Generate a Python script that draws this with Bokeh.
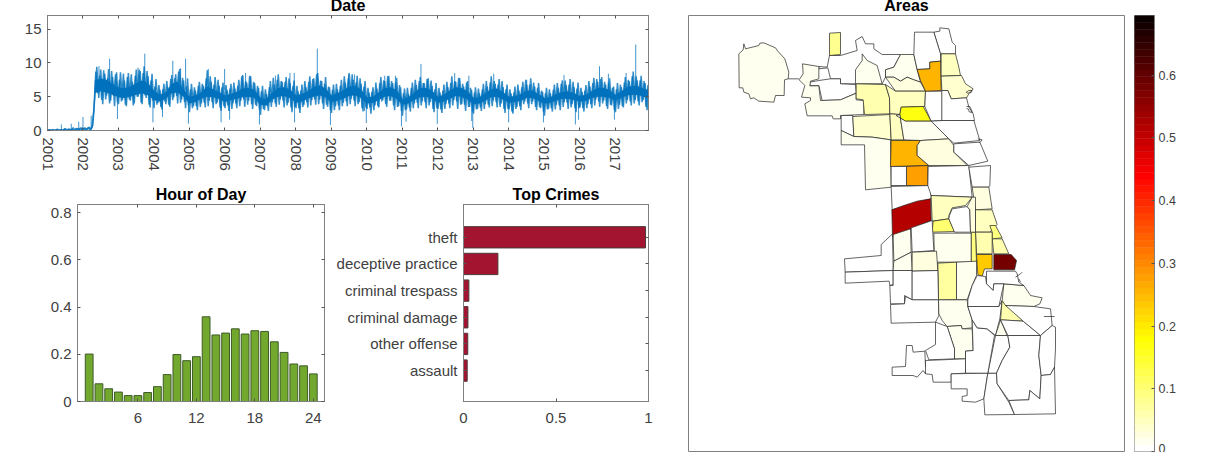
import numpy as np
from bokeh.embed import file_html
from bokeh.resources import INLINE
from bokeh.layouts import row, column
from bokeh.models import (ColumnDataSource, FixedTicker, LinearAxis, LinearColorMapper,
                          NumeralTickFormatter, Range1d, Title)
from bokeh.plotting import figure

# ---------- daily crime series ----------
SERIES_START = 2001.0
SERIES_PER_YEAR = 18
daily_values = [
 0.0,0.1,0.0,0.1,0.0,0.2,0.0,0.1,0.0,0.3,0.0,0.2,0.0,0.4,0.0,0.3,0.1,0.4,
 0.0,0.4,0.1,0.5,0.2,0.8,5.0,9.4,4.8,9.0,3.9,8.4,5.2,9.1,4.4,7.9,3.6,8.6,
 3.9,8.6,4.5,7.4,3.6,8.5,4.4,7.2,4.0,9.0,5.0,8.8,3.9,9.5,4.8,8.0,3.4,8.4,
 3.3,7.6,4.1,6.0,3.1,6.9,3.9,6.4,3.5,8.2,4.9,8.3,4.0,9.1,4.6,7.4,3.3,7.7,
 2.7,6.9,3.6,5.9,3.0,7.2,4.0,6.6,3.4,8.9,4.4,7.2,3.3,7.9,4.1,6.6,2.9,7.1,
 3.3,6.0,2.9,6.9,4.0,6.2,3.3,7.5,4.4,8.2,3.5,7.1,4.4,8.0,3.2,7.0,3.6,6.3,
 2.3,6.6,3.0,5.4,2.9,7.3,4.2,6.8,3.5,8.3,4.6,7.2,3.4,7.9,4.1,7.0,2.7,7.4,
 3.3,5.8,2.6,6.8,3.8,6.4,3.4,8.0,4.5,7.7,3.8,8.5,4.6,7.3,3.2,7.9,3.5,6.4,
 2.6,6.8,3.6,6.1,3.0,7.5,4.1,7.1,3.6,8.5,4.7,7.5,3.6,8.1,4.2,6.9,2.8,7.3,
 3.2,5.6,2.5,6.4,3.7,6.2,3.4,7.9,4.5,7.3,3.5,8.1,4.4,7.0,3.0,7.8,3.6,6.4,
 2.2,6.2,3.1,5.4,2.8,7.1,4.0,6.7,3.3,7.9,4.3,7.0,3.3,7.7,4.2,6.6,2.7,7.0,
 3.2,5.6,2.6,6.8,3.9,6.4,3.3,8.0,4.5,7.2,3.2,7.7,3.9,6.5,2.9,7.3,3.5,6.0,
 2.5,6.4,3.2,5.5,2.9,6.9,3.9,6.5,3.4,8.0,4.4,6.9,3.4,7.6,4.0,6.4,2.6,6.8,
 3.1,5.5,2.5,6.5,3.5,5.9,3.0,7.2,4.3,6.8,3.3,7.7,4.3,6.5,3.0,7.0,3.3,5.7,
 2.2,6.3,3.2,5.5,2.8,6.8,3.8,6.3,3.0,7.4,4.2,6.7,3.2,7.6,3.9,6.4,2.7,7.1,
 3.4,5.7,2.8,6.7,3.9,6.5,3.3,7.8,4.6,7.2,3.5,7.9,4.4,6.8,3.2,7.7,3.7,6.5,
 2.7,7.0,3.8,6.4,3.4,7.9,4.5,7.3,3.7,8.7,4.5,7.4,3.7,8.1,4.5,7.0,3.0,7.5,
]
daily_values_between = [
 0.1,0.0,0.1,0.0,0.1,0.0,0.1,0.0,0.2,0.0,0.2,0.1,0.2,0.0,0.3,0.1,0.3,0.1,
 0.3,0.1,0.4,0.1,0.4,3.0,8.7,5.5,8.1,4.5,8.9,4.6,7.7,4.0,8.8,5.1,8.3,4.2,
 7.5,4.3,8.4,3.8,7.9,4.6,8.3,3.7,8.1,5.0,9.0,4.1,8.5,5.2,8.8,3.8,7.4,4.4,
 6.5,3.8,6.7,3.5,6.1,4.3,7.3,3.8,7.6,4.5,7.7,5.1,8.7,4.1,7.8,4.2,6.5,3.7,
 6.1,3.3,6.4,3.6,6.6,3.5,6.9,4.1,7.7,3.6,8.0,4.2,6.8,3.9,7.5,3.4,6.4,3.6,
 6.7,3.7,6.2,3.2,7.1,4.0,6.6,3.6,8.0,4.6,7.3,3.8,8.1,3.9,7.2,3.8,6.6,3.1,
 5.8,3.2,6.1,3.6,6.4,3.5,7.8,4.0,7.5,3.8,7.3,4.4,7.2,3.7,7.7,3.4,6.6,3.5,
 6.6,3.3,5.9,3.5,7.3,4.2,7.2,3.7,7.6,4.6,8.3,3.9,7.4,4.0,6.9,3.8,6.5,3.0,
 6.0,3.0,6.9,3.7,6.6,3.6,8.0,4.3,7.7,3.9,8.3,4.4,7.1,3.9,7.7,3.3,6.5,3.4,
 6.3,3.4,5.7,3.0,7.1,3.6,7.0,4.3,7.4,3.9,8.0,4.4,7.3,3.7,7.1,3.5,6.7,2.9,
 5.5,3.0,6.3,3.4,6.3,3.3,7.5,4.1,7.3,3.7,7.0,4.2,7.6,3.7,7.4,3.2,6.1,3.3,
 6.3,3.1,5.9,3.2,7.2,4.0,7.0,3.7,7.3,4.3,7.8,3.8,6.9,3.8,7.1,3.5,6.3,2.8,
 5.6,3.1,6.2,3.4,6.1,3.2,7.3,3.8,7.1,3.6,7.3,4.2,6.8,3.5,7.3,3.2,6.1,3.2,
 6.1,2.8,5.6,3.2,6.8,3.6,6.4,3.9,7.5,4.0,6.8,3.9,7.1,3.5,6.3,3.5,5.9,2.8,
 5.5,3.1,6.1,3.3,6.0,3.1,7.0,3.7,6.9,3.5,7.4,4.1,6.8,3.4,7.2,3.3,6.2,3.3,
 6.3,3.3,5.9,3.3,7.3,3.9,7.0,3.7,7.6,4.3,7.6,4.0,7.2,3.6,7.1,3.8,6.3,3.0,
 6.1,3.2,6.8,3.6,7.1,4.0,7.5,4.3,8.0,4.0,8.0,4.3,7.4,4.2,7.3,3.5,6.7,3.6,
]
CORE_START = 2002.33
CORE_PER_YEAR = 6
core_low = [
 5.5,5.8,5.6,5.3, 4.9,4.8,5.0,5.3,5.5,5.2, 4.5,4.3,4.7,5.5,5.6,5.0, 4.0,4.2,4.7,5.0,4.9,4.7,
 4.2,4.5,4.7,4.9,5.0,4.8, 3.8,3.7,4.6,5.0,5.1,4.8, 4.1,4.3,4.7,5.0,5.2,4.9, 4.2,4.4,4.7,5.1,5.2,4.8,
 4.0,4.1,4.5,5.0,5.1,4.7, 3.8,4.0,4.5,4.9,5.0,4.7, 4.1,4.3,4.7,5.1,5.0,4.6, 3.9,4.0,4.4,4.9,5.0,4.6,
 4.1,4.2,4.4,4.8,4.8,4.4, 4.0,4.1,4.4,4.7,4.7,4.5, 4.3,4.4,4.8,5.0,5.0,4.8, 4.4,4.8,5.2,5.3,5.2,4.9, 4.8]
core_high = [
 7.4,7.7,7.5,6.9, 6.4,6.2,6.5,7.0,7.4,7.0, 5.9,5.3,5.6,6.9,7.2,6.1, 5.0,5.2,5.6,6.5,6.1,5.7,
 5.2,5.4,5.7,6.2,6.3,6.0, 4.8,4.7,5.6,6.3,6.4,6.1, 5.2,5.4,5.8,6.4,6.7,6.2, 5.2,5.5,5.9,6.5,6.6,6.1,
 4.9,5.0,5.6,6.3,6.4,6.0, 4.6,4.9,5.6,6.3,6.3,5.9, 5.0,5.3,5.9,6.4,6.3,5.8, 4.8,4.9,5.5,6.1,6.2,5.7,
 5.0,5.1,5.4,5.9,5.9,5.4, 4.8,4.9,5.4,5.7,5.8,5.5, 5.1,5.3,5.8,6.3,6.3,6.0, 5.3,5.8,6.4,6.6,6.5,6.1, 6.0]
peak_years = [2002.45,2002.75,2003.55,2003.74,2004.53,2004.75,2004.89,2005.53,2005.99,2006.58,2007.42,
              2007.83,2007.95,2008.6,2009.48,2009.65,2010.5,2010.8,2011.52,2012.47,2012.87,2013.57,
              2014.5,2015.55,2016.55,2016.8,2017.3,2017.57]
peak_values = [9.5,10.6,9.3,11.35,10.3,9.2,10.6,9.1,9.1,8.5,8.1,8.5,8.5,12.1,8.3,8.3,8.1,8.1,9.85,8.5,
               8.1,8.4,7.5,8.2,9.5,8.4,8.5,12.7]
dip_years = [2002.97,2003.97,2004.24,2004.97,2005.89,2006.13,2006.97,2007.96,2008.97,2009.93,2009.98,
             2010.97,2011.1,2011.98,2012.95,2012.98,2013.99,2014.97,2015.87,2015.96,2016.97]
dip_values = [1.7,1.2,2.0,1.0,1.2,1.6,0.9,1.2,0.8,2.9,1.1,0.6,1.3,0.95,1.4,0.4,1.2,1.2,0.9,1.6,1.6]
early_years = [2001.39,2001.67,2001.88,2002.0,2002.23]
early_values = [0.9,1.0,1.3,2.0,2.2]
year_ticks = list(range(2001, 2018))

# ---------- hour of day ----------
hours = list(range(1, 25))
hour_values = [.201,.075,.054,.04,.025,.025,.038,.063,.114,.199,.173,.19,.359,.282,.29,.308,.286,.30,.297,.253,
               .208,.159,.151,.117]
# ---------- top crimes ----------
crime_names = ["theft","deceptive practice","criminal trespass","criminal damage","other offense","assault"]
crime_values = [.984,.186,.029,.024,.023,.02]

# ---------- community areas: traced outlines, per tracing sheet (origin, then points at 3 units per map unit)
SHEETS = {"N":(690,10),"S":(830,220),"C":(880,150),"E":(900,20)}
AREAS = [
 ("N",.012,[(145,130),(158,118),(160,100),(165,115),(205,105),(208,98),(220,97),(255,112),(262,122),(283,145),(295,185),(293,205),(282,208),(281,255),(255,255),(250,275),(205,272),(190,262),(180,265),(175,250),(160,245),(157,232),(146,232)]),
 ("N",0,[(417,135),(450,135),(500,120),(495,90),(515,78),(525,100),(550,100),(550,115),(575,132),(630,132),(610,170),(585,178),(585,200),(575,220),(495,220),(450,220),(450,205),(420,205),(412,172),(385,175),(385,168),(410,170)]),
 ("N",.08,[(417,68),(450,66),(450,132),(417,135)]),
 ("N",0,[(385,210),(420,205),(450,205),(450,220),(495,222),(497,248),(450,268),(395,270),(385,225),(358,225),(358,215)]),
 ("N",.012,[(336,160),(385,168),(385,205),(360,212),(358,226),(385,226),(390,270),(450,268),(497,248),(497,268),(520,270),(520,312),(450,315),(450,325),(428,325),(425,316),(350,316),(343,280),(360,270),(360,262),(333,260),(343,225),(326,208),(338,190)]),
 ("N",.012,[(495,178),(515,150),(515,130),(530,150),(560,165),(575,220),(495,220)]),
 ("N",.015,[(585,178),(610,170),(630,132),(670,132),(680,178),(690,215),(670,208),(650,200),(630,212),(610,200),(585,200)]),
 ("N",.03,[(585,200),(610,200),(630,212),(650,200),(670,208),(690,215),(705,242),(615,242)]),
 ("N",.06,[(497,220),(585,222),(597,262),(598,310),(522,312),(518,268),(497,265)]),
 ("N",.05,[(585,222),(615,242),(705,242),(703,288),(632,290),(628,312),(598,310),(597,262)]),
 ("N",.17,[(632,290),(698,288),(722,332),(645,332),(617,315),(628,312)]),
 ("N",0,[(705,242),(755,242),(755,330),(722,332),(703,288)]),
 ("N",0,[(452,315),(487,315),(490,378),(452,360)]),
 ("N",.04,[(487,318),(598,312),(602,388),(545,380),(490,378)]),
 ("N",.05,[(598,310),(628,312),(640,388),(602,388)]),
 ("N",.015,[(628,312),(617,315),(645,332),(722,332),(775,385),(690,390),(640,388)]),
 ("N",.012,[(452,360),(490,378),(545,380),(600,388),(602,530),(525,538),(522,403),(452,403)]),
 ("N",.25,[(602,390),(690,390),(680,405),(680,435),(715,465),(600,468)]),
 ("N",.025,[(690,390),(775,385),(790,405),(790,425),(830,465),(715,465),(680,435),(680,405)]),
 ("N",.28,[(648,468),(712,465),(712,525),(648,525)]),
 ("N",0,[(602,468),(648,468),(648,525),(602,525)]),
 ("N",.008,[(602,528),(720,525),(722,565),(605,598)]),
 ("N",0,[(755,330),(850,330),(868,390),(790,398),(775,385),(722,332)]),
 ("N",0,[(790,400),(868,395),(892,452),(835,465),(790,425)]),
 ("E",.01,[(100,35),(118,32),(118,22),(145,25),(155,65),(165,75),(165,100),(120,100)]),
 ("E",0,[(42,35),(100,35),(120,100),(120,122),(88,125),(88,145),(50,147),(40,102)]),
 ("E",.26,[(50,147),(88,145),(88,125),(120,122),(122,210),(75,212),(60,180)]),
 ("E",.05,[(122,100),(165,100),(175,140),(180,165),(122,167)]),
 ("E",.035,[(122,167),(183,165),(195,190),(218,205),(205,220),(198,232),(152,235),(142,210),(124,210)]),
 ("E",0,[(124,210),(142,210),(152,235),(198,232),(205,260),(218,280),(222,300),(124,300)]),
 ("C",0,[(143,48),(265,45),(275,140),(152,135),(142,105)]),
 ("C",0,[(265,50),(330,45),(328,105),(325,110),(275,110)]),
 ("C",.03,[(275,110),(325,110),(335,175),(285,178)]),
 ("C",.05,[(285,178),(335,178),(350,222),(328,245),(285,245)]),
 ("C",.09,[(328,225),(345,225),(365,262),(335,265),(335,245)]),
 ("C",.06,[(335,265),(365,265),(385,310),(340,310)]),
 ("C",.58,[(340,312),(392,312),(408,330),(402,358),(340,358)]),
 ("C",.235,[(288,312),(335,312),(335,355),(312,355),(305,378),(292,372)]),
 ("C",.06,[(285,245),(335,245),(335,310),(288,310)]),
 ("C",.09,[(272,245),(285,245),(288,335),(272,335)]),
 ("C",.012,[(160,248),(272,248),(272,335),(162,335)]),
 ("C",.05,[(152,135),(275,140),(255,165),(215,172),(205,195),(205,205),(170,210),(155,212)]),
 ("C",.10,[(158,212),(205,205),(222,243),(155,245)]),
 ("C",0,[(207,195),(215,175),(260,168),(268,178),(270,245),(222,245),(205,205)]),
 ("C",.03,[(260,168),(275,140),(285,140),(285,245),(270,245),(268,178)]),
 ("C",.52,[(34,178),(70,165),(110,152),(150,145),(152,210),(36,260)]),
 ("S",0,[(42,115),(152,105),(152,72),(186,40),(188,150),(44,155)]),
 ("S",0,[(44,155),(188,150),(188,192),(178,195),(176,182),(44,188)]),
 ("S",.02,[(188,42),(240,25),(242,95),(190,122)]),
 ("S",.012,[(190,122),(242,95),(245,150),(188,150)]),
 ("S",.01,[(242,22),(305,0),(310,90),(245,95)]),
 ("S",.03,[(245,95),(318,92),(322,150),(245,152)]),
 ("S",.07,[(322,128),(378,125),(378,237),(324,238)]),
 ("S",.012,[(378,125),(438,122),(438,165),(425,195),(410,238),(378,237)]),
 ("S",0,[(188,150),(245,150),(245,238),(222,225),(222,250),(180,250),(178,195),(188,195)]),
 ("S",0,[(245,152),(322,150),(324,238),(245,238)]),
 ("S",0,[(180,252),(222,250),(225,228),(245,238),(324,238),(325,285),(315,305),(182,308)]),
 ("S",.012,[(324,238),(410,238),(412,258),(425,298),(425,322),(395,325),(392,315),(350,318),(335,300),(325,280)]),
 ("S",.012,[(350,318),(392,315),(395,325),(425,325),(428,390),(405,392),(405,415),(372,415),(372,385)]),
 ("S",0,[(315,305),(350,318),(372,385),(372,415),(295,418),(285,390),(315,372)]),
 ("S",0,[(185,440),(225,438),(228,375),(245,375),(248,395),(283,392),(285,440),(295,440),(285,460),(278,450),(260,470),(248,465),(185,465)]),
 ("S",0,[(285,420),(405,415),(405,458),(362,460),(362,485),(308,485),(305,462),(285,460)]),
 ("S",0,[(362,460),(472,458),(460,535),(435,545),(395,542),(395,528),(410,525),(410,505),(362,505)]),
 ("S",0,[(472,458),(498,458),(500,490),(535,545),(552,582),(463,583),(460,535)]),
 ("S",0,[(498,458),(515,420),(538,380),(532,345),(495,345),(472,458)]),
 ("S",0,[(405,392),(428,390),(425,298),(440,322),(470,325),(492,345),(472,458),(405,458)]),
 ("S",0,[(412,258),(505,258),(515,240),(508,295),(495,345),(470,325),(440,322),(425,298)]),
 ("S",.06,[(515,240),(578,302),(510,298)]),
 ("S",.02,[(510,298),(530,345),(495,345)]),
 ("S",0,[(510,298),(578,302),(630,345),(532,345)]),
 ("S",.012,[(520,190),(580,195),(600,225),(635,232),(628,250),(610,258),(525,255),(515,240)]),
 ("S",0,[(555,152),(468,152),(468,190),(488,210),(490,190),(520,190),(580,195),(565,185),(560,160)]),
 ("S",0,[(412,258),(505,258),(520,190),(490,190),(488,210),(468,190),(465,168),(440,165),(425,195),(412,238)]),
 ("S",0,[(525,255),(610,258),(660,265),(665,315),(630,345),(578,302)]),
 ("S",0,[(532,345),(630,345),(625,405),(632,465),(628,535),(598,510),(595,538),(535,540),(500,490),(498,458),(515,420),(538,380)]),
 ("S",0,[(630,345),(665,315),(675,320),(675,385),(672,440),(660,462),(632,465),(625,405)]),
 ("S",0,[(632,465),(660,462),(672,440),(675,580),(552,582),(535,540),(595,538),(598,510),(628,535)]),
]
SHORE_LINES = [
 ("N",[(293,205),(325,205)]),
 ("S",[(640,288),(672,288)]),
 ("E",[(197,215),(205,210),(215,210),(212,216),(200,218),(197,215)]),
 ("E",[(198,258),(208,258),(216,276),(206,274),(204,266),(198,264)]),
 ("E",[(232,355),(245,358),(238,366),(235,365)]),
 ("S",[(555,170),(570,160),(575,155)]),
 ("S",[(565,175),(570,185)]),
]

def sheet_xy(name, pts):
    ox, oy = SHEETS[name]
    a = np.array(pts, dtype=float)
    return list(ox + a[:, 0] / 3), list(oy + a[:, 1] / 3)

# ---------- colour map: MATLAB flipud(hot) with 64 steps ----------
def hot_palette(n=64):
    m = int(np.floor(3 * n / 8))
    r = np.r_[np.arange(1, m + 1) / m, np.ones(n - m)]
    g = np.r_[np.zeros(m), np.arange(1, m + 1) / m, np.ones(n - 2 * m)]
    b = np.r_[np.zeros(2 * m), np.arange(1, n - 2 * m + 1) / (n - 2 * m)]
    return ["#%02x%02x%02x" % (int(round(255 * x)), int(round(255 * y)), int(round(255 * z))) for x, y, z in zip(r, g, b)][::-1]

CMAX = 0.695
palette = hot_palette()
mapper = LinearColorMapper(palette=palette, low=0, high=CMAX)

TXT = "#404040"
BOX = "#808080"
TICK = "#555555"
FONT = "Liberation Sans"
LABEL = "15px"
EXTRA = 12

def style_axis(ax, standoff=6):
    ax.major_tick_in = 3
    ax.major_tick_out = 0
    ax.minor_tick_in = 0
    ax.minor_tick_out = 0
    ax.major_tick_line_color = TICK
    ax.axis_line_color = BOX
    ax.major_label_text_color = TXT
    ax.major_label_text_font = FONT
    ax.major_label_text_font_size = LABEL
    ax.major_label_standoff = standoff

def mirror(p, side, ticks):
    ax = LinearAxis(ticker=FixedTicker(ticks=ticks))
    style_axis(ax, 0)
    ax.major_label_text_font_size = "0px"
    ax.major_label_overrides = {t: "" for t in ticks}
    p.add_layout(ax, side)

def add_title(p, text, standoff):
    p.add_layout(Title(text=text, align="center", text_font=FONT, text_font_size="16px",
                       text_font_style="bold", text_color="#000000", standoff=standoff), "above")

def base(width, height, xr, yr, left, right, top, bottom, **kw):
    p = figure(width=width, height=height, x_range=xr, y_range=yr, output_backend="svg", toolbar_location=None,
               min_border_left=left, min_border_right=right, min_border_top=top, min_border_bottom=bottom, **kw)
    p.grid.visible = False
    p.outline_line_color = BOX
    p.outline_line_width = 1
    p.background_fill_color = "white"
    return p

# ---------- Date ----------
top = base(668, 178 + EXTRA, Range1d(2001, 2017.93), Range1d(0, 17), 47, 20, 15 + EXTRA, 48)
style_axis(top.xaxis[0], 7); style_axis(top.yaxis[0])
top.xaxis[0].ticker = FixedTicker(ticks=year_ticks)
top.xaxis[0].major_label_overrides = {y: str(y) for y in year_ticks}
top.xaxis[0].major_label_orientation = -np.pi / 2
top.yaxis[0].ticker = FixedTicker(ticks=[0, 5, 10, 15])
mirror(top, "above", year_ticks)
mirror(top, "right", [0, 5, 10, 15])
BLUE = "#0072BD"
core_x = [CORE_START + i / CORE_PER_YEAR for i in range(len(core_low))]
top.varea(x=core_x, y1=core_low, y2=core_high, fill_color=BLUE)
daily_x = [SERIES_START + i / SERIES_PER_YEAR for i in range(len(daily_values))]
between_x = [SERIES_START + (i + 0.5) / SERIES_PER_YEAR for i in range(len(daily_values_between))]
top.line(daily_x, daily_values, line_color=BLUE, line_width=1.5, line_alpha=0.8)
top.line(between_x, daily_values_between, line_color=BLUE, line_width=1.5, line_alpha=0.8)
for yrs, vals, base_v in ((peak_years, peak_values, 6), (dip_years, dip_values, 5), (early_years, early_values, 0)):
    top.segment(x0=yrs, x1=yrs, y0=[base_v] * len(yrs), y1=vals, line_color=BLUE, line_width=1, line_alpha=0.75)
add_title(top, "Date", 3)

# ---------- Hour of Day ----------
hour = base(330, 274, Range1d(-0.2, 25.15), Range1d(0, 0.835), 77, 6, 26, 51)
style_axis(hour.xaxis[0], 11); style_axis(hour.yaxis[0])
hour.xaxis[0].ticker = FixedTicker(ticks=[6, 12, 18, 24])
hour.yaxis[0].ticker = FixedTicker(ticks=[0, .2, .4, .6, .8])
hour.yaxis[0].formatter = NumeralTickFormatter(format="0.[0]")
mirror(hour, "above", [6, 12, 18, 24])
mirror(hour, "right", [0, .2, .4, .6, .8])
hour.vbar(x=hours, top=hour_values, bottom=0, width=0.8, fill_color="#72a82d", line_color="#3f5a2a", line_width=1)
add_title(hour, "Hour of Day", 3)

# ---------- Top Crimes ----------
crimes = base(338, 274, Range1d(0, 1), Range1d(7.16, -0.23), 133, 20, 26, 51)
style_axis(crimes.xaxis[0], 11); style_axis(crimes.yaxis[0])
crimes.xaxis[0].ticker = FixedTicker(ticks=[0, .5, 1])
crimes.xaxis[0].formatter = NumeralTickFormatter(format="0.[0]")
crime_pos = list(range(1, len(crime_names) + 1))
crimes.yaxis[0].ticker = FixedTicker(ticks=crime_pos)
crimes.yaxis[0].major_label_overrides = {i: n for i, n in zip(crime_pos, crime_names)}
mirror(crimes, "above", [0, .5, 1])
mirror(crimes, "right", crime_pos)
crimes.hbar(y=crime_pos, right=crime_values, left=0, height=0.8, fill_color="#a2142f", line_color="#4a3a3a", line_width=1)
add_title(crimes, "Top Crimes", 3)

# ---------- Areas ----------
area = base(462, 436 + 15 + EXTRA + 1, Range1d(688, 1124), Range1d(451, 15), 20, 6, 15 + EXTRA, 1,
            x_axis_location=None, y_axis_location=None)
area_xs, area_ys, area_vals = [], [], []
for sheet, val, pts in AREAS:
    x, y = sheet_xy(sheet, pts)
    area_xs.append(x); area_ys.append(y); area_vals.append(val)
src = ColumnDataSource(dict(xs=area_xs, ys=area_ys, val=area_vals))
area.patches("xs", "ys", source=src, fill_color={"field": "val", "transform": mapper},
             line_color="#222222", line_width=0.7)
line_xs, line_ys = [], []
for sheet, pts in SHORE_LINES:
    x, y = sheet_xy(sheet, pts)
    line_xs.append(x); line_ys.append(y)
area.multi_line(line_xs, line_ys, line_color="#222222", line_width=0.7)
add_title(area, "Areas", 3)

# ---------- colour bar ----------
cbar = base(82, 436 + 15 + EXTRA + 1, Range1d(0, 1), Range1d(0, CMAX), 4, 58, 15 + EXTRA, 1,
            x_axis_location=None, y_axis_location="right")
style_axis(cbar.yaxis[0], 4)
cbar.yaxis[0].major_label_text_font_size = "12.5px"
cbar.yaxis[0].ticker = FixedTicker(ticks=[0, .1, .2, .3, .4, .5, .6])
cbar.yaxis[0].formatter = NumeralTickFormatter(format="0.[0]")
step = CMAX / len(palette)
levels = [step * i for i in range(len(palette))]
cbar.quad(left=0, right=1, bottom=levels, top=[l + step for l in levels],
          fill_color=list(palette), line_color=list(palette), line_width=0.5)

root = row(column(top, row(hour, crimes, spacing=0), spacing=0), area, cbar, spacing=0,
           margin=(-EXTRA, 0, 0, 0))
open("out.html", "w").write(file_html(root, INLINE))
